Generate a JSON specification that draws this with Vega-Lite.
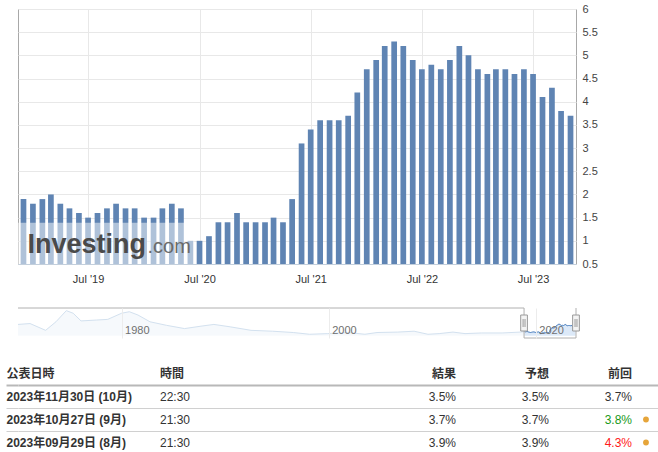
{
  "$schema": "https://vega.github.io/schema/vega-lite/v6.json",
  "padding": {"left": 0, "top": 2, "right": 0, "bottom": 0},
  "background": "#ffffff",
  "config": {
    "view": {"stroke": null},
    "font": "Liberation Sans, Noto Sans CJK JP, sans-serif"
  },
  "datasets": {
    "cpi": [
      {"date": "2018/12/01", "value": 1.9}, {"date": "2019/01/01", "value": 1.8}, {"date": "2019/02/01", "value": 1.9},
      {"date": "2019/03/01", "value": 2.0}, {"date": "2019/04/01", "value": 1.8}, {"date": "2019/05/01", "value": 1.7},
      {"date": "2019/06/01", "value": 1.6}, {"date": "2019/07/01", "value": 1.5}, {"date": "2019/08/01", "value": 1.6},
      {"date": "2019/09/01", "value": 1.7}, {"date": "2019/10/01", "value": 1.8}, {"date": "2019/11/01", "value": 1.7},
      {"date": "2019/12/01", "value": 1.7}, {"date": "2020/01/01", "value": 1.5}, {"date": "2020/02/01", "value": 1.5},
      {"date": "2020/03/01", "value": 1.7}, {"date": "2020/04/01", "value": 1.8}, {"date": "2020/05/01", "value": 1.7},
      {"date": "2020/06/01", "value": 1.0}, {"date": "2020/07/01", "value": 1.0}, {"date": "2020/08/01", "value": 1.1},
      {"date": "2020/09/01", "value": 1.4}, {"date": "2020/10/01", "value": 1.4}, {"date": "2020/11/01", "value": 1.6},
      {"date": "2020/12/01", "value": 1.4}, {"date": "2021/01/01", "value": 1.4}, {"date": "2021/02/01", "value": 1.4},
      {"date": "2021/03/01", "value": 1.5}, {"date": "2021/04/01", "value": 1.4}, {"date": "2021/05/01", "value": 1.9},
      {"date": "2021/06/01", "value": 3.1}, {"date": "2021/07/01", "value": 3.4}, {"date": "2021/08/01", "value": 3.6},
      {"date": "2021/09/01", "value": 3.6}, {"date": "2021/10/01", "value": 3.6}, {"date": "2021/11/01", "value": 3.7},
      {"date": "2021/12/01", "value": 4.2}, {"date": "2022/01/01", "value": 4.7}, {"date": "2022/02/01", "value": 4.9},
      {"date": "2022/03/01", "value": 5.2}, {"date": "2022/04/01", "value": 5.3}, {"date": "2022/05/01", "value": 5.2},
      {"date": "2022/06/01", "value": 4.9}, {"date": "2022/07/01", "value": 4.7}, {"date": "2022/08/01", "value": 4.8},
      {"date": "2022/09/01", "value": 4.7}, {"date": "2022/10/01", "value": 4.9}, {"date": "2022/11/01", "value": 5.2},
      {"date": "2022/12/01", "value": 5.0}, {"date": "2023/01/01", "value": 4.7}, {"date": "2023/02/01", "value": 4.6},
      {"date": "2023/03/01", "value": 4.7}, {"date": "2023/04/01", "value": 4.7}, {"date": "2023/05/01", "value": 4.6},
      {"date": "2023/06/01", "value": 4.7}, {"date": "2023/07/01", "value": 4.6}, {"date": "2023/08/01", "value": 4.1},
      {"date": "2023/09/01", "value": 4.3}, {"date": "2023/10/01", "value": 3.8}, {"date": "2023/11/01", "value": 3.7}
    ],
    "hist": [
      {"date": "1970/01/01", "value": 5.2}, {"date": "1971/03/01", "value": 5.6}, {"date": "1972/09/01", "value": 2.5},
      {"date": "1973/09/01", "value": 6.4}, {"date": "1974/09/01", "value": 11.5}, {"date": "1975/05/01", "value": 10.3},
      {"date": "1976/02/01", "value": 6.8}, {"date": "1977/08/01", "value": 7.2}, {"date": "1978/09/01", "value": 7.5},
      {"date": "1980/01/01", "value": 10.3}, {"date": "1980/10/01", "value": 11.0}, {"date": "1981/08/01", "value": 9.5},
      {"date": "1982/10/01", "value": 6.4}, {"date": "1984/05/01", "value": 4.8}, {"date": "1986/02/01", "value": 3.3},
      {"date": "1987/09/01", "value": 4.4}, {"date": "1988/12/01", "value": 5.2}, {"date": "1990/07/01", "value": 4.1},
      {"date": "1992/07/01", "value": 2.5}, {"date": "1994/08/01", "value": 2.1}, {"date": "1996/08/01", "value": 1.5},
      {"date": "1998/03/01", "value": 0.7}, {"date": "1999/12/01", "value": 1.0}, {"date": "2001/12/01", "value": 1.5},
      {"date": "2003/07/01", "value": 0.7}, {"date": "2004/09/01", "value": 1.5}, {"date": "2006/09/01", "value": 1.7},
      {"date": "2008/04/01", "value": 2.1}, {"date": "2009/08/01", "value": 0.7}, {"date": "2010/09/01", "value": 1.0},
      {"date": "2012/01/01", "value": 1.7}, {"date": "2013/03/01", "value": 1.0}, {"date": "2014/10/01", "value": 1.3},
      {"date": "2016/10/01", "value": 1.3}, {"date": "2018/07/01", "value": 1.7}, {"date": "2018/12/01", "value": 1.9}
    ],
    "table": [
      {"date": "公表日時", "time": "時間", "actual": "結果", "forecast": "予想", "previous": "前回", "rev": "none"},
      {"date": "2023年11月30日 (10月)", "time": "22:30", "actual": "3.5%", "forecast": "3.5%", "previous": "3.7%", "rev": "none"},
      {"date": "2023年10月27日 (9月)", "time": "21:30", "actual": "3.7%", "forecast": "3.7%", "previous": "3.8%", "rev": "up"},
      {"date": "2023年09月29日 (8月)", "time": "21:30", "actual": "3.9%", "forecast": "3.9%", "previous": "4.3%", "rev": "down"}
    ]
  },
  "columns": 1,
  "spacing": 23,
  "concat": [
    {
      "columns": 1,
      "spacing": 22,
      "concat": [
        {
          "width": 558,
          "height": 255,
          "view": {"stroke": "#a8a8a8"},
          "resolve": {"axis": {"x": "independent", "y": "independent"}},
          "layer": [
            {
              "data": {"name": "cpi"},
              "mark": {"type": "bar", "size": 5.7, "color": "#5f84b3"},
              "encoding": {
                "x": {
                  "field": "date", "type": "temporal",
                  "scale": {"domain": [{"year": 2018, "month": 11, "date": 13}, {"year": 2023, "month": 11, "date": 19}], "padding": 0},
                  "axis": {
                    "values": [{"year": 2019, "month": 7, "date": 1}, {"year": 2020, "month": 7, "date": 1}, {"year": 2021, "month": 7, "date": 1}, {"year": 2022, "month": 7, "date": 1}, {"year": 2023, "month": 7, "date": 1}],
                    "format": "%b '%y", "labelFlush": false, "labelOverlap": false,
                    "grid": true, "gridColor": "#e8e8e8", "ticks": false,
                    "domain": true, "domainColor": "#c3cfdc", "labelPadding": 9,
                    "labelFontSize": 11, "labelColor": "#333333", "title": null
                  }
                },
                "y": {
                  "field": "value", "type": "quantitative",
                  "scale": {"domain": [0.5, 6], "nice": false, "zero": false, "padding": 0},
                  "axis": {
                    "orient": "right", "values": [0.5, 1, 1.5, 2, 2.5, 3, 3.5, 4, 4.5, 5, 5.5, 6],
                    "format": "~g", "grid": true, "gridColor": "#e8e8e8", "ticks": false, "domain": false,
                    "labelPadding": 6, "labelFontSize": 11, "labelColor": "#444444",
                    "labelFlush": false, "labelOverlap": false, "title": null
                  }
                },
                "y2": {"datum": 0.5}
              }
            },
            {
              "data": {"values": [{}]},
              "mark": {"type": "rect", "color": "#ffffff", "opacity": 0.5},
              "encoding": {
                "x": {"datum": {"year": 2018, "month": 11, "date": 13}, "type": "temporal", "axis": null},
                "x2": {"datum": {"year": 2020, "month": 6, "date": 14}},
                "y": {"datum": 1.39, "type": "quantitative",
                  "axis": {"orient": "left", "labels": false, "domain": false, "grid": false, "ticks": true, "tickSize": 17, "tickOpacity": 0, "minExtent": 17, "maxExtent": 17, "values": [1], "title": null}},
                "y2": {"datum": 0.5}
              }
            },
            {
              "data": {"values": [{"t": "Investing"}]},
              "mark": {"type": "text", "align": "left", "baseline": "alphabetic", "fontSize": 27, "fontWeight": "bold", "color": "#4a4a4a"},
              "encoding": {
                "x": {"datum": {"year": 2018, "month": 12, "date": 14}, "type": "temporal", "axis": null},
                "y": {"datum": 0.743, "type": "quantitative", "axis": null},
                "text": {"field": "t"}
              }
            },
            {
              "data": {"values": [{"t": ".com"}]},
              "mark": {"type": "text", "align": "left", "baseline": "alphabetic", "fontSize": 20, "color": "#6a6a6a"},
              "encoding": {
                "x": {"datum": {"year": 2020, "month": 1, "date": 12}, "type": "temporal", "axis": null},
                "y": {"datum": 0.743, "type": "quantitative", "axis": null},
                "text": {"field": "t"}
              }
            }
          ]
        },
        {
          "width": 558,
          "height": 30,
          "resolve": {"axis": {"x": "independent", "y": "independent"}},
          "layer": [
            {
              "data": {"name": "hist"},
              "mark": {"type": "area", "color": "#f2f6fb", "line": {"color": "#d3e1ef", "strokeWidth": 1}},
              "encoding": {
                "x": {
                  "field": "date", "type": "temporal",
                  "scale": {"domain": [{"year": 1970, "month": 1, "date": 1}, {"year": 2023, "month": 11, "date": 19}], "padding": 0},
                  "axis": {
                    "values": [{"year": 1980, "month": 1, "date": 1}, {"year": 2000, "month": 1, "date": 1}, {"year": 2020, "month": 1, "date": 1}],
                    "format": "%Y", "grid": true, "gridColor": "#ececec", "ticks": false, "domain": false,
                    "labelAlign": "left", "labelOffset": 3, "labelPadding": -5, "labelBaseline": "alphabetic",
                    "labelColor": "#707070", "labelFontSize": 11, "labelFlush": false, "zindex": 1, "title": null
                  }
                },
                "y": {
                  "field": "value", "type": "quantitative",
                  "scale": {"domain": [-1, 12.7], "nice": false, "zero": false, "padding": 0},
                  "axis": {"orient": "left", "labels": false, "domain": false, "grid": false, "ticks": true, "tickSize": 17, "tickOpacity": 0, "minExtent": 17, "maxExtent": 17, "values": [5], "title": null}
                }
              }
            },
            {
              "data": {"name": "cpi"},
              "mark": {"type": "area", "color": "#cde0f5", "line": {"color": "#4178bb", "strokeWidth": 1}},
              "encoding": {
                "x": {"field": "date", "type": "temporal", "axis": null},
                "y": {"field": "value", "type": "quantitative", "axis": null}
              }
            },
            {
              "data": {"values": [{}]},
              "mark": {"type": "rule", "color": "#b0b0b0", "strokeWidth": 1},
              "encoding": {
                "x": {"datum": {"year": 1970, "month": 1, "date": 1}, "type": "temporal", "axis": null},
                "x2": {"datum": {"year": 2018, "month": 11, "date": 13}},
                "y": {"datum": 12.7, "type": "quantitative", "axis": null}
              }
            },
            {
              "data": {"values": [{}]},
              "mark": {"type": "rule", "color": "#b0b0b0", "strokeWidth": 1},
              "encoding": {
                "x": {"datum": {"year": 2018, "month": 11, "date": 13}, "type": "temporal", "axis": null},
                "x2": {"datum": {"year": 2023, "month": 11, "date": 19}},
                "y": {"datum": -1, "type": "quantitative", "axis": null}
              }
            },
            {
              "data": {"values": [{"d": "2018/11/13"}, {"d": "2023/11/19"}]},
              "mark": {"type": "rule", "color": "#b0b0b0", "strokeWidth": 1},
              "encoding": {
                "x": {"field": "d", "type": "temporal", "axis": null}
              }
            },
            {
              "data": {"values": [{"d": "2018/11/13"}, {"d": "2023/11/19"}]},
              "mark": {"type": "point", "shape": "M-0.42,-1H0.42V1H-0.42Z M-0.12,-0.5V0.5 M0.12,-0.5V0.5", "size": 256, "filled": true, "fill": "#f4f4f4", "stroke": "#9a9a9a", "strokeWidth": 1, "opacity": 1},
              "encoding": {
                "x": {"field": "d", "type": "temporal", "axis": null},
                "y": {"datum": 5.85, "type": "quantitative", "axis": null}
              }
            }
          ]
        }
      ]
    },
    {
      "width": 641,
      "height": 92,
      "data": {"name": "table"},
      "resolve": {"scale": {"x": "independent"}},
      "encoding": {
        "y": {
          "field": "date", "type": "nominal",
          "scale": {"type": "band", "domain": ["公表日時", "2023年11月30日 (10月)", "2023年10月27日 (9月)", "2023年09月29日 (8月)"], "paddingInner": 0, "paddingOuter": 0},
          "axis": {
            "orient": "left", "bandPosition": 1, "domain": false, "title": null,
            "grid": true, "ticks": true, "tickSize": 12,
            "gridColor": {"condition": {"test": "datum.value === '公表日時'", "value": "#b8b8b8"}, "value": "#d0d0d0"},
            "tickColor": {"condition": {"test": "datum.value === '公表日時'", "value": "#b8b8b8"}, "value": "#d0d0d0"},
            "gridWidth": {"condition": {"test": "datum.value === '公表日時'", "value": 2}, "value": 1},
            "tickWidth": {"condition": {"test": "datum.value === '公表日時'", "value": 2}, "value": 1},
            "gridOpacity": {"condition": {"test": "datum.value === '2023年09月29日 (8月)'", "value": 0}, "value": 1},
            "tickOpacity": {"condition": {"test": "datum.value === '2023年09月29日 (8月)'", "value": 0}, "value": 1},
            "labelAlign": "left", "labelPadding": 0, "labelBaseline": "middle",
            "labelFontWeight": "bold", "labelFontSize": 12, "labelColor": "#333333", "labelLimit": 300
          }
        }
      },
      "layer": [
        {
          "transform": [{"filter": "datum.date === '公表日時'"}],
          "mark": {"type": "text", "align": "left", "fontSize": 12, "fontWeight": "bold", "color": "#333333"},
          "encoding": {
            "x": {"datum": "time", "type": "nominal", "scale": {"type": "point", "align": 0.2215}, "axis": null},
            "text": {"field": "time"}
          }
        },
        {
          "transform": [{"filter": "datum.date !== '公表日時'"}],
          "mark": {"type": "text", "align": "left", "fontSize": 12, "color": "#333333"},
          "encoding": {
            "x": {"datum": "time", "type": "nominal", "scale": {"type": "point", "align": 0.2215}, "axis": null},
            "text": {"field": "time"}
          }
        },
        {
          "transform": [{"filter": "datum.date === '公表日時'"}],
          "mark": {"type": "text", "align": "right", "fontSize": 12, "fontWeight": "bold", "color": "#333333"},
          "encoding": {
            "x": {"datum": "actual", "type": "nominal", "scale": {"type": "point", "align": 0.6833}, "axis": null},
            "text": {"field": "actual"}
          }
        },
        {
          "transform": [{"filter": "datum.date !== '公表日時'"}],
          "mark": {"type": "text", "align": "right", "fontSize": 12, "color": "#333333"},
          "encoding": {
            "x": {"datum": "actual", "type": "nominal", "scale": {"type": "point", "align": 0.6833}, "axis": null},
            "text": {"field": "actual"}
          }
        },
        {
          "transform": [{"filter": "datum.date === '公表日時'"}],
          "mark": {"type": "text", "align": "right", "fontSize": 12, "fontWeight": "bold", "color": "#333333"},
          "encoding": {
            "x": {"datum": "forecast", "type": "nominal", "scale": {"type": "point", "align": 0.8284}, "axis": null},
            "text": {"field": "forecast"}
          }
        },
        {
          "transform": [{"filter": "datum.date !== '公表日時'"}],
          "mark": {"type": "text", "align": "right", "fontSize": 12, "color": "#333333"},
          "encoding": {
            "x": {"datum": "forecast", "type": "nominal", "scale": {"type": "point", "align": 0.8284}, "axis": null},
            "text": {"field": "forecast"}
          }
        },
        {
          "transform": [{"filter": "datum.date === '公表日時'"}],
          "mark": {"type": "text", "align": "right", "fontSize": 12, "fontWeight": "bold", "color": "#333333"},
          "encoding": {
            "x": {"datum": "previous", "type": "nominal", "scale": {"type": "point", "align": 0.9579}, "axis": null},
            "text": {"field": "previous"}
          }
        },
        {
          "transform": [{"filter": "datum.date !== '公表日時'"}],
          "mark": {"type": "text", "align": "right", "fontSize": 12},
          "encoding": {
            "x": {"datum": "previous", "type": "nominal", "scale": {"type": "point", "align": 0.9579}, "axis": null},
            "text": {"field": "previous"},
            "color": {"field": "rev", "type": "nominal", "scale": {"domain": ["none", "up", "down"], "range": ["#333333", "#1a9a1a", "#ff1a1a"]}, "legend": null}
          }
        },
        {
          "transform": [{"filter": "datum.rev !== 'none'"}],
          "mark": {"type": "point", "filled": true, "size": 34, "color": "#e6a53a", "opacity": 1},
          "encoding": {
            "x": {"datum": "dot", "type": "nominal", "scale": {"type": "point", "align": 0.9797}, "axis": null}
          }
        }
      ]
    }
  ]
}
